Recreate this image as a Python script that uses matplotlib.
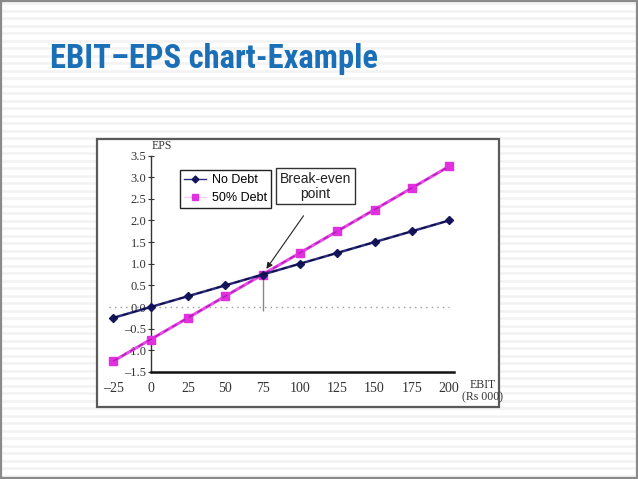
import matplotlib
matplotlib.use('Agg')
import matplotlib.pyplot as plt
from matplotlib import font_manager
from matplotlib.lines import Line2D
from matplotlib.patches import Rectangle
import numpy as np

# ---------------- data ----------------
ebit = [-25, 0, 25, 50, 75, 100, 125, 150, 175, 200]
eps_no_debt = [-0.25, 0.0, 0.25, 0.5, 0.75, 1.0, 1.25, 1.5, 1.75, 2.0]
eps_50_debt = [-1.25, -0.75, -0.25, 0.25, 0.75, 1.25, 1.75, 2.25, 2.75, 3.25]
series_labels = ['No Debt', '50% Debt']
x_ticks = [-25, 0, 25, 50, 75, 100, 125, 150, 175, 200]
x_tick_labels = ['\u201325', '0', '25', '50', '75', '100', '125', '150', '175', '200']
y_ticks = [-1.5, -1.0, -0.5, 0.0, 0.5, 1.0, 1.5, 2.0, 2.5, 3.0, 3.5]
y_tick_labels = ['\u20131.5', '\u20131.0', '\u20130.5', '0.0', '0.5', '1.0', '1.5',
                 '2.0', '2.5', '3.0', '3.5']
break_even = (75, 0.75)
title = 'EBIT\u2013EPS chart-Example'
annot_text = 'Break-even\npoint'
y_label = 'EPS'
x_label = 'EBIT\n(Rs 000)'

W, H = 638, 479
fig = plt.figure(figsize=(W / 100, H / 100), dpi=100)

# ---------------- slide background ----------------
bg = fig.add_axes([0, 0, 1, 1])
bg.set_xlim(0, W)
bg.set_ylim(H, 0)
bg.axis('off')
for yy in np.arange(3, H, 7.5):
    bg.axhline(yy, color='#f3f3f3', lw=1.8, zorder=0)
bg.add_patch(Rectangle((0.8, 0.8), W - 1.6, H - 1.6, fill=False,
                       edgecolor='#8a8a8a', lw=1.6, zorder=1))
bg.add_patch(Rectangle((97, 139), 402, 268, facecolor='white',
                       edgecolor='#5a5a5a', lw=1.6, zorder=2))

# ---------------- chart ----------------
ax_l, ax_r, ax_t, ax_b = 105, 458, 155.5, 372
ax = fig.add_axes([ax_l / W, (H - ax_b) / H, (ax_r - ax_l) / W, (ax_b - ax_t) / H])
ax.set_facecolor('none')
ax.set_xlim(-30.5, 205.9)
ax.set_ylim(-1.5, 3.5)

for s in ['top', 'right']:
    ax.spines[s].set_visible(False)
ax.spines['left'].set_position(('data', 0))
ax.spines['left'].set_linewidth(1.0)
ax.spines['left'].set_color('#333333')
ax.spines['bottom'].set_bounds(0, 203.5)
ax.spines['bottom'].set_linewidth(1.8)
ax.spines['bottom'].set_color('#111111')

serif = 'Liberation Serif'
ax.set_yticks(y_ticks)
ax.set_yticklabels(y_tick_labels, fontfamily=serif, fontsize=9, color='#333333')
ax.tick_params(axis='y', direction='inout', length=4, width=0.8, pad=1, colors='#333333')
ax.set_xticks(x_ticks)
ax.set_xticklabels(x_tick_labels, fontfamily=serif, fontsize=10, color='#333333')
ax.tick_params(axis='x', length=0, pad=7)

# dotted zero line and break-even drop line
ax.hlines(0, -28, 200, colors='#9a9a9a', lw=1.0, linestyles=(0, (1, 3)), zorder=1)
ax.vlines(break_even[0], -0.1, break_even[1], colors='#888888', lw=1.0, zorder=1)

# series
ax.plot(ebit, eps_50_debt, color='#e84ae8', lw=2.2, marker='s', ms=5.5,
        mfc='#e030e0', mec='#e030e0', zorder=3)
ax.plot(ebit, eps_50_debt, color='#b418b4', lw=1.0, dashes=(4, 3), zorder=3.5)
ax.plot(ebit, eps_no_debt, color='#2c2c80', lw=1.8, marker='D', ms=3.8,
        mfc='#15155e', mec='#15155e', zorder=4)
ax.plot(ebit, eps_no_debt, color='#0c0c40', lw=1.0, dashes=(4, 3), zorder=4.5)

# legend
handles = [
    Line2D([], [], color='#2c2c80', lw=1.0, marker='D', ms=3.5,
           mfc='#15155e', mec='#15155e'),
    Line2D([], [], color='#f6d0f6', lw=1.0, marker='s', ms=5,
           mfc='#e030e0', mec='#e030e0'),
]
leg = ax.legend(handles, series_labels, loc='upper left',
                bbox_to_anchor=((180 - ax_l) / (ax_r - ax_l), (ax_b - 170) / (ax_b - ax_t)),
                borderaxespad=0, frameon=True, fancybox=False, framealpha=1,
                edgecolor='#222222', prop={'family': 'Liberation Sans', 'size': 9},
                handlelength=1.7, handletextpad=0.5, borderpad=0.35, labelspacing=0.45)
leg.get_frame().set_linewidth(1.0)

# break-even annotation
ax.annotate('', xy=(break_even[0] + 1.5, break_even[1] + 0.08), xytext=(103.5, 2.16),
            arrowprops=dict(arrowstyle='-|>', color='#222222', lw=0.8,
                            mutation_scale=9), zorder=5)
ax.text(110.5, 2.79, annot_text, ha='center', va='center',
        fontfamily='Liberation Sans', fontsize=10, color='#222222', linespacing=1.05,
        bbox=dict(boxstyle='square,pad=0.25', fc='white', ec='#333333', lw=1.0),
        zorder=6)

# axis labels
ax.annotate('', xy=(0, 3.72), xytext=(0, 3.45),
            arrowprops=dict(arrowstyle='-|>', color='#333333', lw=0.8, mutation_scale=7))
ax.text(0.5, 3.72, y_label, ha='left', va='center', fontfamily=serif,
        fontsize=8.5, color='#333333')
fig.text(483 / W, 1 - 391 / H, x_label, ha='center', va='center',
         fontfamily=serif, fontsize=8.5, color='#333333', linespacing=1.05)

# ---------------- title ----------------
names = {f.name for f in font_manager.fontManager.ttflist}
title_family = 'DejaVu Sans'
for cand in ['Roboto Condensed', 'Liberation Sans Narrow', 'Open Sans Condensed']:
    if cand in names:
        title_family = cand
        break
fs = 28
t = fig.text(50 / W, 1 - 68 / H, title, ha='left', va='baseline',
             fontfamily=title_family, fontweight='bold', fontstretch='condensed',
             fontsize=fs, color='#1b6fb7')
fig.canvas.draw()
wpx = t.get_window_extent().width
t.set_fontsize(min(fs, fs * 328 / wpx))

fig.savefig('out.png', dpi=100)
